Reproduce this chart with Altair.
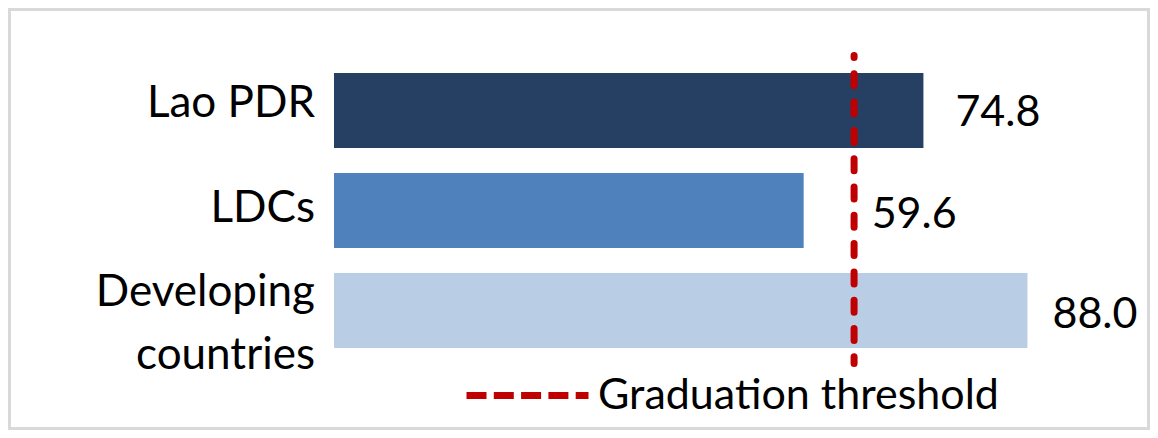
import altair as alt
import pandas as pd

# ---- data ----
categories = ["Lao PDR", "LDCs", "Developing countries"]
values = [74.8, 59.6, 88.0]
threshold_value = [66]
threshold_label = ["Graduation threshold"]

# ---- styles ----
bar_colors = ["#264064", "#4f81bd", "#b9cde5"]
thr_color = "#c00000"
FONT = "Lato"
CAT_SIZE = 44
VAL_SIZE = 43
# per-category label offsets (pixels): category label dy, value label dx, value label dy
cat_dy = {"Lao PDR": 6.7, "LDCs": 11.5, "Developing countries": -5}
val_dx = {"Lao PDR": 32, "LDCs": 68, "Developing countries": 25}
val_dy = {"Lao PDR": 15.7, "LDCs": 17.5, "Developing countries": 17.0}

df = pd.DataFrame({
    "category": categories,
    "value": values,
    "label": [f"{v:.1f}" for v in values],
})
thr = pd.DataFrame({"threshold": threshold_value, "name": threshold_label})

x_scale = alt.Scale(domain=[0, 100], nice=False, zero=True)
x_enc = alt.X("value:Q", scale=x_scale, axis=None)
y_enc = alt.Y("category:N", sort=categories, axis=None,
              scale=alt.Scale(domain=categories, paddingInner=0.25, paddingOuter=0.125))

base = alt.Chart(df)

bars = base.mark_bar(cornerRadius=0).encode(
    x=x_enc,
    y=y_enc,
    fill=alt.Fill("category:N", scale=alt.Scale(domain=categories, range=bar_colors), legend=None),
)

layers = [bars]

# category labels at the left (anchored at value 0)
for c in categories:
    multi = c == "Developing countries"
    layers.append(
        base.transform_filter(alt.datum.category == c).transform_calculate(zero="0").mark_text(
            align="right", baseline="alphabetic", font=FONT, fontSize=CAT_SIZE,
            color="black", dx=-19, dy=cat_dy[c],
            **({"lineBreak": " ", "lineHeight": 63} if multi else {}),
        ).encode(
            x=alt.X("zero:Q", scale=x_scale, axis=None),
            y=y_enc,
            text="category:N",
        )
    )

# value labels right of the bars
for c in categories:
    layers.append(
        base.transform_filter(alt.datum.category == c).mark_text(
            align="left", baseline="alphabetic", font=FONT, fontSize=VAL_SIZE,
            color="black", dx=val_dx[c], dy=val_dy[c],
        ).encode(x=x_enc, y=y_enc, text="label:N")
    )

# threshold line with legend
rule = alt.Chart(thr).mark_rule(
    strokeWidth=7, strokeDash=[12, 16.3], strokeCap="round", strokeDashOffset=10,
).encode(
    x=alt.X("threshold:Q", scale=x_scale, axis=None),
    y=alt.value(-5),
    y2=alt.value(303),
    stroke=alt.Stroke(
        "name:N",
        scale=alt.Scale(domain=threshold_label, range=[thr_color]),
        legend=alt.Legend(
            title=None, orient="none", legendX=129, legendY=270.5,
            symbolType="stroke", symbolSize=14884, symbolStrokeWidth=7,
            symbolDash=[20, 7.3], symbolStrokeColor=thr_color,
            labelFont=FONT, labelFontSize=43, labelColor="black",
            labelOffset=6, padding=0, labelLimit=600,
        ),
    ),
)
layers.append(rule)

# outer frame
frame = alt.Chart(pd.DataFrame({"f": [0]})).mark_rect(
    fillOpacity=0, stroke="#d9d9d9", strokeWidth=3,
).encode(
    x=alt.value(-324.5), x2=alt.value(814.5),
    y=alt.value(-51), y2=alt.value(368),
)
layers.append(frame)

chart = alt.layer(*layers).properties(
    width=788, height=300,
    padding={"left": 326, "top": 52.5, "right": 28, "bottom": 69.5},
    autosize=alt.AutoSizeParams(type="none"),
    background="white",
).configure_view(strokeWidth=0, stroke="transparent")

chart.save("out.html", embed_options={"renderer": "svg", "actions": False})
